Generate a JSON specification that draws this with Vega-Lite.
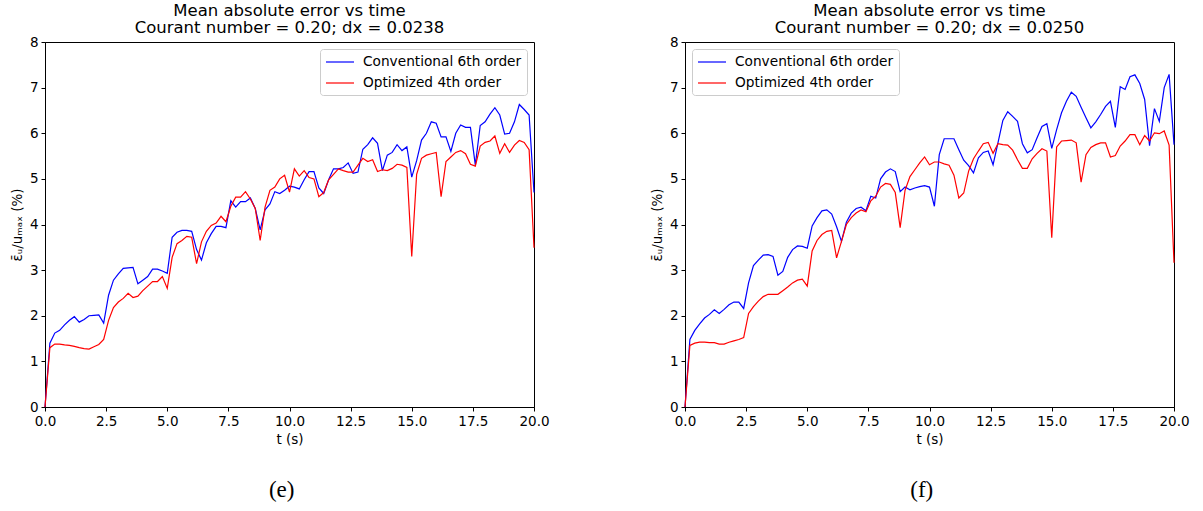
{
  "$schema": "https://vega.github.io/schema/vega-lite/v6.json",
  "padding": {"left": 9, "top": 2, "right": 5, "bottom": 5},
  "spacing": 99,
  "resolve": {"legend": {"color": "independent"}, "scale": {"color": "independent"}},
  "datasets": {
    "e": [
      {"t":0,"C":0,"O":0},{"t":0.2,"C":1.40,"O":1.30},{"t":0.4,"C":1.62,"O":1.38},{"t":0.6,"C":1.68,"O":1.38},{"t":0.8,"C":1.80,"O":1.36},
      {"t":1.0,"C":1.90,"O":1.35},{"t":1.2,"C":1.98,"O":1.33},{"t":1.4,"C":1.86,"O":1.30},{"t":1.6,"C":1.92,"O":1.28},{"t":1.8,"C":2.00,"O":1.27},
      {"t":2.0,"C":2.01,"O":1.32},{"t":2.2,"C":2.02,"O":1.37},{"t":2.4,"C":1.84,"O":1.48},{"t":2.6,"C":2.45,"O":1.90},{"t":2.8,"C":2.78,"O":2.18},
      {"t":3.0,"C":2.92,"O":2.30},{"t":3.2,"C":3.04,"O":2.38},{"t":3.4,"C":3.05,"O":2.49},{"t":3.6,"C":3.06,"O":2.40},{"t":3.8,"C":2.70,"O":2.43},
      {"t":4.0,"C":2.78,"O":2.55},{"t":4.2,"C":2.86,"O":2.65},{"t":4.4,"C":3.02,"O":2.75},{"t":4.6,"C":3.02,"O":2.75},{"t":4.8,"C":2.98,"O":2.86},
      {"t":5.0,"C":2.93,"O":2.60},{"t":5.2,"C":3.72,"O":3.28},{"t":5.4,"C":3.83,"O":3.58},{"t":5.6,"C":3.87,"O":3.65},{"t":5.8,"C":3.87,"O":3.74},
      {"t":6.0,"C":3.85,"O":3.72},{"t":6.2,"C":3.45,"O":3.14},{"t":6.4,"C":3.22,"O":3.62},{"t":6.6,"C":3.60,"O":3.85},{"t":6.8,"C":3.80,"O":3.98},
      {"t":7.0,"C":3.96,"O":4.03},{"t":7.2,"C":3.96,"O":4.18},{"t":7.4,"C":3.93,"O":4.06},{"t":7.6,"C":4.52,"O":4.40},{"t":7.8,"C":4.38,"O":4.60},
      {"t":8.0,"C":4.50,"O":4.60},{"t":8.2,"C":4.50,"O":4.72},{"t":8.4,"C":4.58,"O":4.56},{"t":8.6,"C":4.35,"O":4.35},{"t":8.8,"C":3.88,"O":3.65},
      {"t":9.0,"C":4.32,"O":4.38},{"t":9.2,"C":4.45,"O":4.75},{"t":9.4,"C":4.72,"O":4.82},{"t":9.6,"C":4.68,"O":5.00},{"t":9.8,"C":4.75,"O":5.08},
      {"t":10.0,"C":4.84,"O":4.71},{"t":10.2,"C":4.82,"O":5.22},{"t":10.4,"C":4.78,"O":5.06},{"t":10.6,"C":4.98,"O":5.18},{"t":10.8,"C":5.16,"O":5.03},
      {"t":11.0,"C":5.16,"O":5.00},{"t":11.2,"C":4.80,"O":4.61},{"t":11.4,"C":4.68,"O":4.70},{"t":11.6,"C":4.98,"O":4.98},{"t":11.8,"C":5.22,"O":5.10},
      {"t":12.0,"C":5.22,"O":5.22},{"t":12.2,"C":5.25,"O":5.18},{"t":12.4,"C":5.35,"O":5.15},{"t":12.6,"C":5.12,"O":5.15},{"t":12.8,"C":5.15,"O":5.30},
      {"t":13.0,"C":5.65,"O":5.45},{"t":13.2,"C":5.75,"O":5.38},{"t":13.4,"C":5.90,"O":5.42},{"t":13.6,"C":5.78,"O":5.16},{"t":13.8,"C":5.18,"O":5.20},
      {"t":14.0,"C":5.52,"O":5.18},{"t":14.2,"C":5.58,"O":5.23},{"t":14.4,"C":5.75,"O":5.32},{"t":14.6,"C":5.62,"O":5.30},{"t":14.8,"C":5.70,"O":5.25},
      {"t":15.0,"C":5.04,"O":3.30},{"t":15.2,"C":5.40,"O":5.10},{"t":15.4,"C":5.85,"O":5.45},{"t":15.6,"C":6.00,"O":5.52},{"t":15.8,"C":6.25,"O":5.55},
      {"t":16.0,"C":6.22,"O":5.58},{"t":16.2,"C":5.92,"O":4.61},{"t":16.4,"C":5.92,"O":5.38},{"t":16.6,"C":5.60,"O":5.48},{"t":16.8,"C":6.00,"O":5.58},
      {"t":17.0,"C":6.18,"O":5.62},{"t":17.2,"C":6.13,"O":5.55},{"t":17.4,"C":6.13,"O":5.32},{"t":17.6,"C":5.30,"O":5.28},{"t":17.8,"C":6.17,"O":5.72},
      {"t":18.0,"C":6.25,"O":5.80},{"t":18.2,"C":6.42,"O":5.83},{"t":18.4,"C":6.56,"O":5.94},{"t":18.6,"C":6.40,"O":5.56},{"t":18.8,"C":5.98,"O":5.77},
      {"t":19.0,"C":6.00,"O":5.58},{"t":19.2,"C":6.25,"O":5.74},{"t":19.4,"C":6.63,"O":5.84},{"t":19.6,"C":6.52,"O":5.80},{"t":19.8,"C":6.40,"O":5.64},
      {"t":20.0,"C":4.70,"O":3.49}
    ],
    "f": [
      {"t":0,"C":0,"O":0},{"t":0.2,"C":1.48,"O":1.35},{"t":0.4,"C":1.68,"O":1.40},{"t":0.6,"C":1.82,"O":1.42},{"t":0.8,"C":1.95,"O":1.42},
      {"t":1.0,"C":2.03,"O":1.41},{"t":1.2,"C":2.13,"O":1.41},{"t":1.4,"C":2.05,"O":1.38},{"t":1.6,"C":2.14,"O":1.38},{"t":1.8,"C":2.24,"O":1.42},
      {"t":2.0,"C":2.30,"O":1.45},{"t":2.2,"C":2.30,"O":1.48},{"t":2.4,"C":2.16,"O":1.52},{"t":2.6,"C":2.72,"O":2.05},{"t":2.8,"C":3.10,"O":2.20},
      {"t":3.0,"C":3.22,"O":2.32},{"t":3.2,"C":3.33,"O":2.42},{"t":3.4,"C":3.34,"O":2.47},{"t":3.6,"C":3.30,"O":2.47},{"t":3.8,"C":2.89,"O":2.47},
      {"t":4.0,"C":2.97,"O":2.55},{"t":4.2,"C":3.28,"O":2.63},{"t":4.4,"C":3.45,"O":2.72},{"t":4.6,"C":3.53,"O":2.78},{"t":4.8,"C":3.52,"O":2.80},
      {"t":5.0,"C":3.48,"O":2.65},{"t":5.2,"C":3.97,"O":3.42},{"t":5.4,"C":4.15,"O":3.65},{"t":5.6,"C":4.30,"O":3.78},{"t":5.8,"C":4.32,"O":3.85},
      {"t":6.0,"C":4.23,"O":3.87},{"t":6.2,"C":3.95,"O":3.27},{"t":6.4,"C":3.63,"O":3.63},{"t":6.6,"C":4.05,"O":4.00},{"t":6.8,"C":4.25,"O":4.15},
      {"t":7.0,"C":4.35,"O":4.25},{"t":7.2,"C":4.38,"O":4.32},{"t":7.4,"C":4.30,"O":4.28},{"t":7.6,"C":4.62,"O":4.52},{"t":7.8,"C":4.58,"O":4.62},
      {"t":8.0,"C":5.00,"O":4.82},{"t":8.2,"C":5.15,"O":4.90},{"t":8.4,"C":5.22,"O":4.88},{"t":8.6,"C":5.16,"O":4.70},{"t":8.8,"C":4.72,"O":3.93},
      {"t":9.0,"C":4.82,"O":4.75},{"t":9.2,"C":4.76,"O":5.05},{"t":9.4,"C":4.80,"O":5.20},{"t":9.6,"C":4.83,"O":5.35},{"t":9.8,"C":4.85,"O":5.48},
      {"t":10.0,"C":4.82,"O":5.31},{"t":10.2,"C":4.40,"O":5.37},{"t":10.4,"C":5.53,"O":5.37},{"t":10.6,"C":5.88,"O":5.33},{"t":10.8,"C":5.88,"O":5.30},
      {"t":11.0,"C":5.88,"O":5.08},{"t":11.2,"C":5.64,"O":4.58},{"t":11.4,"C":5.41,"O":4.69},{"t":11.6,"C":5.29,"O":5.17},{"t":11.8,"C":5.13,"O":5.44},
      {"t":12.0,"C":5.46,"O":5.61},{"t":12.2,"C":5.58,"O":5.77},{"t":12.4,"C":5.61,"O":5.80},{"t":12.6,"C":5.31,"O":5.56},{"t":12.8,"C":5.79,"O":5.77},
      {"t":13.0,"C":6.28,"O":5.75},{"t":13.2,"C":6.47,"O":5.74},{"t":13.4,"C":6.37,"O":5.63},{"t":13.6,"C":6.26,"O":5.42},{"t":13.8,"C":5.77,"O":5.23},
      {"t":14.0,"C":5.57,"O":5.23},{"t":14.2,"C":5.64,"O":5.44},{"t":14.4,"C":5.90,"O":5.56},{"t":14.6,"C":6.15,"O":5.66},{"t":14.8,"C":6.21,"O":5.61},
      {"t":15.0,"C":5.67,"O":3.71},{"t":15.2,"C":6.08,"O":5.70},{"t":15.4,"C":6.45,"O":5.83},{"t":15.6,"C":6.70,"O":5.84},{"t":15.8,"C":6.90,"O":5.85},
      {"t":16.0,"C":6.81,"O":5.79},{"t":16.2,"C":6.57,"O":4.93},{"t":16.4,"C":6.34,"O":5.53},{"t":16.6,"C":6.12,"O":5.69},{"t":16.8,"C":6.25,"O":5.75},
      {"t":17.0,"C":6.41,"O":5.79},{"t":17.2,"C":6.59,"O":5.79},{"t":17.4,"C":6.70,"O":5.48},{"t":17.6,"C":6.13,"O":5.51},{"t":17.8,"C":7.02,"O":5.72},
      {"t":18.0,"C":6.96,"O":5.83},{"t":18.2,"C":7.24,"O":5.97},{"t":18.4,"C":7.28,"O":5.97},{"t":18.6,"C":7.09,"O":5.75},{"t":18.8,"C":6.74,"O":5.95},
      {"t":19.0,"C":5.73,"O":5.83},{"t":19.2,"C":6.54,"O":6.01},{"t":19.4,"C":6.26,"O":5.99},{"t":19.6,"C":7.00,"O":6.05},{"t":19.8,"C":7.29,"O":5.74},
      {"t":20.0,"C":5.75,"O":3.16}
    ]
  },
  "config": {
    "font": "DejaVu Sans",
    "view": {"stroke": "black", "strokeWidth": 1},
    "axis": {
      "domainColor": "black", "tickColor": "black", "labelColor": "black", "titleColor": "black",
      "labelFont": "DejaVu Sans", "titleFont": "DejaVu Sans",
      "labelFontSize": 13.5, "titleFontSize": 13.5, "titleFontWeight": "normal",
      "grid": false, "tickSize": 4, "labelPadding": 3, "titlePadding": 5, "labelFlush": false, "labelOverlap": false
    },
    "title": {"font": "DejaVu Sans", "fontSize": 16.5, "fontWeight": "normal", "color": "black", "lineHeight": 17, "offset": -1, "frame": "group", "anchor": "middle"},
    "legend": {
      "labelFont": "DejaVu Sans", "labelFontSize": 13.7, "labelColor": "black",
      "fillColor": "white", "strokeColor": "#cccccc", "cornerRadius": 3, "padding": 5,
      "symbolType": "M-2,0H2", "symbolSize": 196, "symbolStrokeWidth": 1.2, "symbolOffset": 7, "labelOffset": 15, "rowPadding": 6, "offset": 7
    }
  },
  "hconcat": [
    {
      "title": {"text": "(e)", "orient": "bottom", "anchor": "middle", "font": "Liberation Serif", "fontSize": 23, "fontWeight": "normal", "offset": 32, "frame": "bounds", "dx": 2},
      "resolve": {"legend": {"color": "independent"}, "scale": {"color": "independent"}},
      "vconcat": [
        {
          "width": 489, "height": 365,
          "data": {"name": "e"},
          "transform": [{"fold": ["C", "O"], "as": ["s", "v"]}],
          "title": {"text": ["Mean absolute error vs time", "Courant number = 0.20; dx = 0.0238"]},
          "mark": {"type": "line", "strokeWidth": 1.2},
          "encoding": {
            "x": {"field": "t", "type": "quantitative", "scale": {"domain": [0, 20], "nice": false}, "axis": {"values": [0, 2.5, 5, 7.5, 10, 12.5, 15, 17.5, 20], "format": ".1f", "title": "t (s)"}},
            "y": {"field": "v", "type": "quantitative", "scale": {"domain": [0, 8], "nice": false}, "axis": {"values": [0, 1, 2, 3, 4, 5, 6, 7, 8], "format": "d", "title": "ε̄ᵤ/uₘₐₓ (%)"}},
            "color": {"field": "s", "type": "nominal", "scale": {"domain": ["C", "O"], "range": ["#0000ff", "#ff0000"]},
              "legend": {"title": null, "orient": "top-right", "labelExpr": "datum.label == 'C' ? 'Conventional 6th order' : 'Optimized 4th order'"}}
          }
        }
      ]
    },
    {
      "title": {"text": "(f)", "orient": "bottom", "anchor": "middle", "font": "Liberation Serif", "fontSize": 23, "fontWeight": "normal", "offset": 32, "frame": "bounds", "dx": 2},
      "resolve": {"legend": {"color": "independent"}, "scale": {"color": "independent"}},
      "vconcat": [
        {
          "width": 489, "height": 365,
          "data": {"name": "f"},
          "transform": [{"fold": ["C", "O"], "as": ["s", "v"]}],
          "title": {"text": ["Mean absolute error vs time", "Courant number = 0.20; dx = 0.0250"]},
          "mark": {"type": "line", "strokeWidth": 1.2},
          "encoding": {
            "x": {"field": "t", "type": "quantitative", "scale": {"domain": [0, 20], "nice": false}, "axis": {"values": [0, 2.5, 5, 7.5, 10, 12.5, 15, 17.5, 20], "format": ".1f", "title": "t (s)"}},
            "y": {"field": "v", "type": "quantitative", "scale": {"domain": [0, 8], "nice": false}, "axis": {"values": [0, 1, 2, 3, 4, 5, 6, 7, 8], "format": "d", "title": "ε̄ᵤ/uₘₐₓ (%)"}},
            "color": {"field": "s", "type": "nominal", "scale": {"domain": ["C", "O"], "range": ["#0000ff", "#ff0000"]},
              "legend": {"title": null, "orient": "top-left", "labelExpr": "datum.label == 'C' ? 'Conventional 6th order' : 'Optimized 4th order'"}}
          }
        }
      ]
    }
  ]
}
